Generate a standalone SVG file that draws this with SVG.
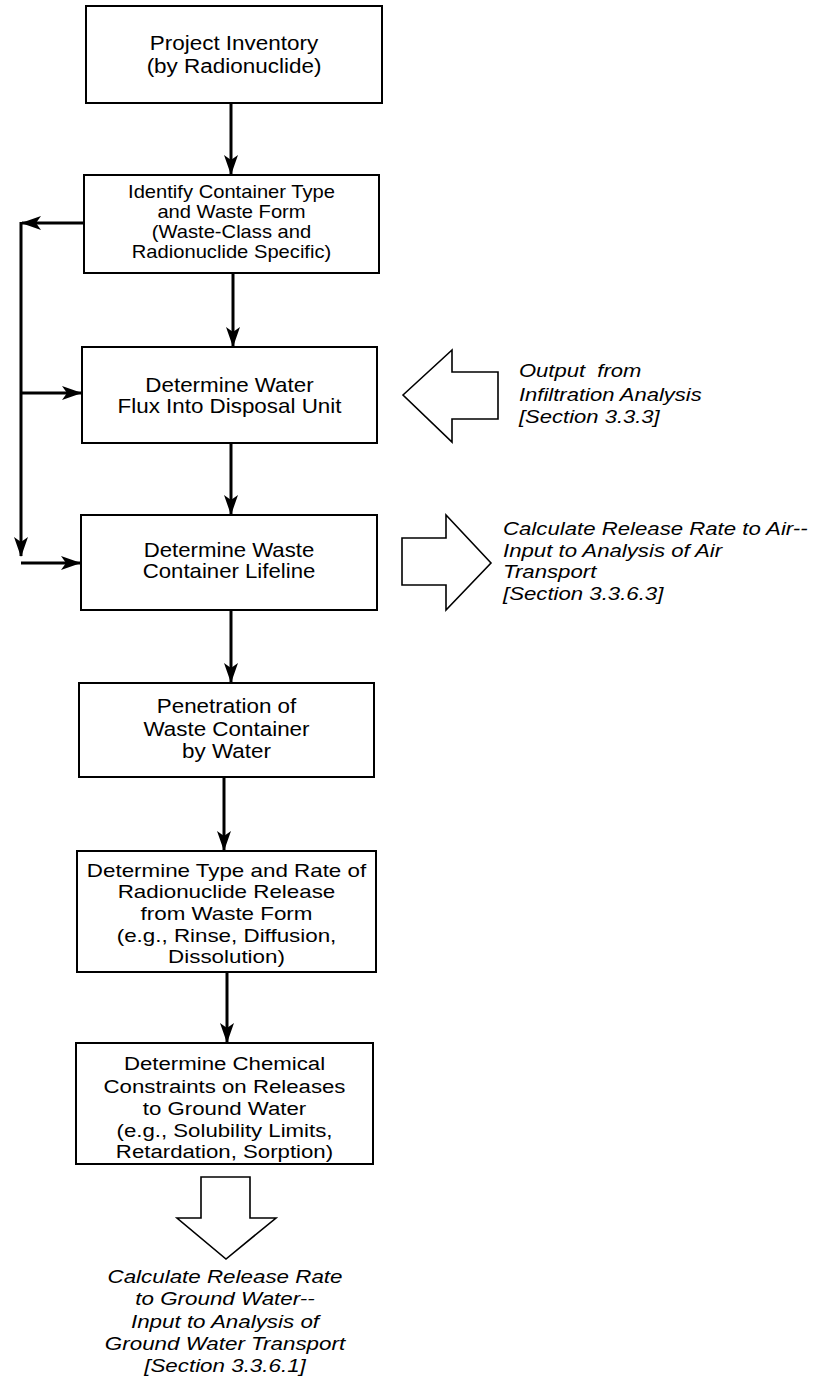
<svg xmlns="http://www.w3.org/2000/svg" width="813" height="1379" viewBox="0 0 813 1379">
<style>
.box{fill:#fff;stroke:#000;stroke-width:2}
.t{font-family:"Liberation Sans",Arial,sans-serif;fill:#000;text-anchor:middle}
.it{font-family:"Liberation Sans",Arial,sans-serif;font-style:italic;fill:#000}
.c{fill:none;stroke:#000;stroke-width:3}
.big{fill:#fff;stroke:#000;stroke-width:1.6;stroke-linejoin:miter}
</style>
<defs>
<marker id="ah" viewBox="0 0 20 14" refX="19" refY="7" markerWidth="20" markerHeight="14" markerUnits="userSpaceOnUse" orient="auto">
<path d="M0,0 L20,7 L0,14 L5,7 Z" fill="#000"/>
</marker>
</defs>
<rect width="813" height="1379" fill="#fff"/>

<g id="connectors">
<path class="c" d="M231,103 V174" marker-end="url(#ah)"/>
<path class="c" d="M233,273 V346" marker-end="url(#ah)"/>
<path class="c" d="M231,443 V514" marker-end="url(#ah)"/>
<path class="c" d="M231,610 V682" marker-end="url(#ah)"/>
<path class="c" d="M224,777 V850" marker-end="url(#ah)"/>
<path class="c" d="M227,972 V1042" marker-end="url(#ah)"/>
<path class="c" d="M84,223 H22" marker-end="url(#ah)"/>
<path class="c" d="M21,222 V556" marker-end="url(#ah)"/>
<path class="c" d="M21,563 H80" marker-end="url(#ah)"/>
<path class="c" d="M21,393 H81" marker-end="url(#ah)"/>
</g>

<g id="n1">
<rect class="box" x="86" y="6" width="296" height="97"/>
<g transform="translate(234 0) scale(1.07 1)" class="t" font-size="21">
<text x="0" y="50">Project Inventory</text>
<text x="0" y="73">(by Radionuclide)</text>
</g>
</g>

<g id="n2">
<rect class="box" x="84" y="175" width="295" height="98"/>
<g transform="translate(231.5 0) scale(1.12 1)" class="t" font-size="18">
<text x="0" y="198">Identify Container Type</text>
<text x="0" y="218">and Waste Form</text>
<text x="0" y="238">(Waste-Class and</text>
<text x="0" y="258">Radionuclide Specific)</text>
</g>
</g>

<g id="n3">
<rect class="box" x="82" y="347" width="295" height="96"/>
<g transform="translate(229.5 0) scale(1.12 1)" class="t" font-size="20">
<text x="0" y="392">Determine Water</text>
<text x="0" y="413">Flux Into Disposal Unit</text>
</g>
</g>

<g id="n4">
<rect class="box" x="81" y="515" width="296" height="95"/>
<g transform="translate(229 0) scale(1.11 1)" class="t" font-size="20">
<text x="0" y="557">Determine Waste</text>
<text x="0" y="578">Container Lifeline</text>
</g>
</g>

<g id="n5">
<rect class="box" x="79" y="683" width="295" height="94"/>
<g transform="translate(226.5 0) scale(1.15 1)" class="t" font-size="19.5">
<text x="0" y="713">Penetration of</text>
<text x="0" y="736">Waste Container</text>
<text x="0" y="758">by Water</text>
</g>
</g>

<g id="n6">
<rect class="box" x="77" y="851" width="299" height="121"/>
<g transform="translate(226.5 0) scale(1.21 1)" class="t" font-size="18.5">
<text x="0" y="877">Determine Type and Rate of</text>
<text x="0" y="898">Radionuclide Release</text>
<text x="0" y="920">from Waste Form</text>
<text x="0" y="942">(e.g., Rinse, Diffusion,</text>
<text x="0" y="963">Dissolution)</text>
</g>
</g>

<g id="n7">
<rect class="box" x="76" y="1043" width="297" height="121"/>
<g transform="translate(224.5 0) scale(1.17 1)" class="t" font-size="19">
<text x="0" y="1070">Determine Chemical</text>
<text x="0" y="1093">Constraints on Releases</text>
<text x="0" y="1115">to Ground Water</text>
<text x="0" y="1137">(e.g., Solubility Limits,</text>
<text x="0" y="1158">Retardation, Sorption)</text>
</g>
</g>

<g id="infiltration">
<polygon class="big" points="403,395 452,350 452,372 498,372 498,419 452,419 452,442"/>
<g transform="translate(519 0) scale(1.19 1)" class="it" font-size="18.5">
<text x="0" y="377" xml:space="preserve">Output  from</text>
<text x="0" y="401">Infiltration Analysis</text>
<text x="0" y="423">[Section 3.3.3]</text>
</g>
</g>

<g id="air">
<polygon class="big" points="402,538 446,538 446,515 491,563 446,610 446,585 402,585"/>
<g transform="translate(503 0) scale(1.2 1)" class="it" font-size="18.5">
<text x="0" y="535">Calculate Release Rate to Air--</text>
<text x="0" y="557">Input to Analysis of Air</text>
<text x="0" y="578">Transport</text>
<text x="0" y="600">[Section 3.3.6.3]</text>
</g>
</g>

<g id="groundwater">
<polygon class="big" points="201,1177 250,1177 250,1218 276,1218 226,1259 177,1218 201,1218"/>
<g transform="translate(225 0) scale(1.21 1)" class="it" font-size="18.5" text-anchor="middle">
<text x="0" y="1283">Calculate Release Rate</text>
<text x="0" y="1305">to Ground Water--</text>
<text x="0" y="1328">Input to Analysis of</text>
<text x="0" y="1350">Ground Water Transport</text>
<text x="0" y="1372">[Section 3.3.6.1]</text>
</g>
</g>
</svg>
